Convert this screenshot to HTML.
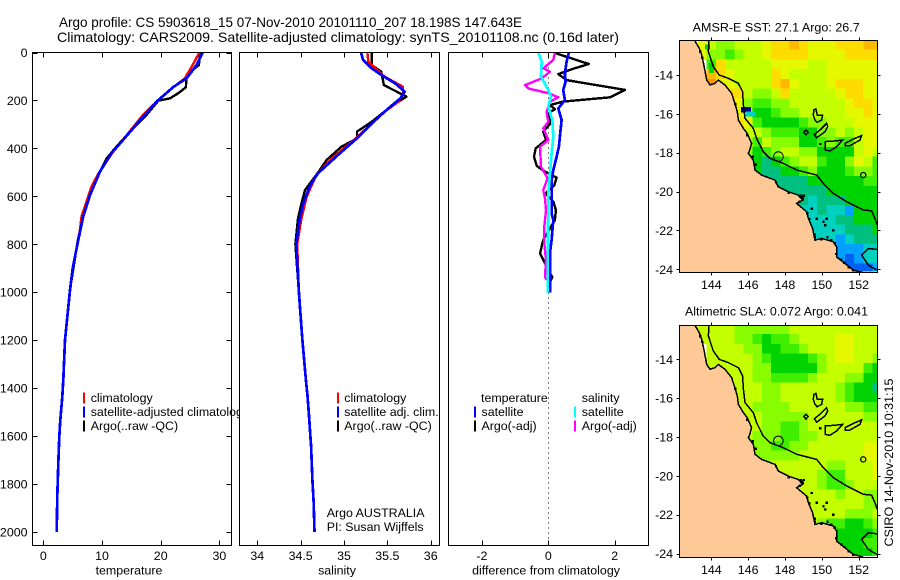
<!DOCTYPE html>
<html lang="en">
<head>
<meta charset="utf-8">
<title>Argo profile CS 5903618_15</title>
<style>
html,body{margin:0;padding:0;background:#fff;}
svg{display:block;}
text{font-family:"Liberation Sans",sans-serif;font-size:12.4px;fill:#000;}
</style>
</head>
<body>
<svg id="chart" width="900" height="580" viewBox="0 0 900 580" xmlns="http://www.w3.org/2000/svg">
<rect x="0" y="0" width="900" height="580" fill="#fff"/>
<text x="59" y="27" style="font-size:14px" textLength="463" lengthAdjust="spacingAndGlyphs">Argo profile: CS 5903618_15 07-Nov-2010 20101110_207 18.198S 147.643E</text>
<text x="57" y="42" style="font-size:14px" textLength="562" lengthAdjust="spacingAndGlyphs">Climatology: CARS2009. Satellite-adjusted climatology: synTS_20101108.nc (0.16d later)</text>
<g id="panels"></g>
<g id="maps"></g>
<text x="692.7" y="31.7" textLength="167" lengthAdjust="spacingAndGlyphs">AMSR-E SST: 27.1 Argo: 26.7</text>
<text x="685" y="315.7" textLength="183" lengthAdjust="spacingAndGlyphs">Altimetric SLA: 0.072 Argo: 0.041</text>
<text transform="translate(893,546.5) rotate(-90)" textLength="168" lengthAdjust="spacingAndGlyphs">CSIRO 14-Nov-2010 10:31:15</text>
</svg>
<script>
const depthTicks = [0,200,400,600,800,1000,1200,1400,1600,1800,2000];
const tempTicks = [0,10,20,30];
const salTicks = [34,34.5,35,35.5,36];
const diffTicks = [-2,0,2];

const tempClimDepth = [0,59,108,149,191,260,344,414,504,560,685,769,900,1000,1200,1366,1436,1533,1603,1714,1853,2000];
const tempClim = [26.6,25.3,24.1,21.9,19.9,17,14.2,11.9,9.4,8.2,6.5,6.1,5,4.55,3.7,3.41,3.24,2.9,2.73,2.56,2.39,2.28];
const tempSatDepth = [0,52,108,143,205,282,365,421,497,595,685,782,900,991,1200,1366,1436,1533,1603,1714,1853,2000];
const tempSat = [27.16,26.1,24.4,22.2,19.3,16.5,13.6,11.6,9.66,7.95,6.8,5.97,5,4.55,3.7,3.41,3.24,2.9,2.73,2.56,2.39,2.28];
const tempArgoDepth = [0,52,94,145,170,191,201,260,302,337,400,442,497,595,685,782,950];
const tempArgo = [26.7,26.5,24.4,24.3,23,21.6,19.6,17.6,15.9,14.5,12.2,10.8,9.66,7.95,6.8,5.9,4.8];

const salClimDepth = [0,38,66,101,143,177,205,247,310,372,441,511,601,692,800,1000,1200,1366,1436,1533,1644,1783,1880,2000];
const salClim = [35.27,35.28,35.36,35.47,35.68,35.68,35.63,35.47,35.28,35.09,34.86,34.68,34.57,34.51,34.46,34.48,34.52,34.56,34.58,34.6,34.62,34.635,34.65,34.66];
const salSatDepth = [0,31,66,94,129,163,191,240,296,358,428,504,553,629,692,800,1000,1200,1366,1436,1533,1644,1783,1880,2000];
const salSat = [35.196,35.22,35.32,35.43,35.59,35.7,35.65,35.49,35.32,35.15,34.93,34.7,34.61,34.53,34.49,34.45,34.48,34.52,34.56,34.58,34.6,34.62,34.635,34.65,34.66];
const salArgoDepth = [0,52,80,136,184,205,240,289,330,358,393,448,511,574,629,692,800,950];
const salArgo = [35.32,35.32,35.43,35.46,35.72,35.63,35.49,35.32,35.15,35.15,34.97,34.8,34.68,34.55,34.51,34.47,34.44,34.47];

const diffTempSatDepth = [0,38,87,122,157,198,233,282,351,393,435,490,532,560,671,699,782,824,1002];
const diffTempSat = [0.62,0.55,0.5,0.52,0.45,0.5,0.3,0.4,0.35,0.32,0.25,0.15,0.1,0.1,0.1,0.15,0.1,0.06,0.05];
const diffTempArgoDepth = [3,48,70,90,115,156,187,205,219,237,251,296,330,365,400,435,473,497,522,553,588,622,657,699,734,782,838,873,907,938,956];
const diffTempArgo = [0.22,1.22,0.7,0.3,0.55,2.31,1.86,0.45,0.05,0.2,0.02,0.06,-0.15,-0.07,-0.38,-0.43,-0.35,-0.1,0.25,0.18,-0.08,0.15,0.23,0.2,0.05,-0.15,-0.25,-0.12,0,0.12,0.05];
const diffSalSatDepth = [0,38,101,157,184,225,282,351,420,504,588,1002];
const diffSalSat = [-0.3,-0.2,-0.22,0,0.08,0,0.12,0.15,0.1,0.05,0,-0.02];
const diffSalArgoDepth = [0,31,66,80,108,136,150,170,187,205,247,289,316,365,393,476,525,574,609,657,727,796,866,935,949];
const diffSalArgo = [0.2,0.15,-0.15,0.05,-0.2,-0.7,-0.6,0,0.3,0.05,-0.05,0,-0.15,0,-0.25,-0.22,-0.02,-0.15,-0.1,-0.07,-0.12,-0.12,-0.07,-0.1,-0.05];

const _ = null;
const sstRows = [
[_,_,9,8,7,7,8,8,8,9,10,10,11,10,9,9,9,10,10,10,11,11],
[_,_,9,7,7,6,7,8,8,9,10,10,10,10,9,9,9,9,10,10,10,10],
[_,_,_,6,10,8,8,8,8,8,9,9,9,9,8,8,9,9,9,9,9,9],
[_,_,_,11,10,9,8,8,8,8,10,9,8,8,8,8,9,9,9,9,9,9],
[_,_,_,12,9,9,8,8,8,8,10,11,9,8,8,8,9,10,10,10,9,9],
[_,_,_,_,10,10,10,8,7,7,8,10,8,8,8,8,8,9,10,10,9,9],
[_,_,_,_,_,10,9,7,6,6,7,7,8,8,8,8,8,8,9,10,10,9],
[_,_,_,_,_,10,9,8,5,5,6,7,7,8,8,8,8,8,9,9,10,9],
[_,_,_,_,_,_,10,9,6,5,5,5,5,6,7,7,8,8,8,9,9,9],
[_,_,_,_,_,_,9,8,8,7,6,6,6,5,5,7,7,8,7,8,9,9],
[_,_,_,_,_,_,_,8,6,8,7,7,7,5,5,6,7,6,6,8,9,9],
[_,_,_,_,_,_,_,7,5,6,7,8,8,7,7,5,5,5,5,8,9,8],
[_,_,_,_,_,_,_,_,5,4,5,6,7,8,8,6,5,5,7,9,8,6],
[_,_,_,_,_,_,_,_,5,4,4,5,5,6,7,5,5,5,6,7,7,6],
[_,_,_,_,_,_,_,_,5,4,4,4,4,4,5,5,5,5,5,5,6,6],
[_,_,_,_,_,_,_,_,_,_,4,4,4,4,4,4,5,5,5,5,5,5],
[_,_,_,_,_,_,_,_,_,_,_,4,4,4,3,4,4,4,5,5,5,5],
[_,_,_,_,_,_,_,_,_,_,_,_,3,3,3,4,3,3,2,5,5,5],
[_,_,_,_,_,_,_,_,_,_,_,_,_,3,3,3,3,4,4,5,5,5],
[_,_,_,_,_,_,_,_,_,_,_,_,_,_,3,3,3,3,4,4,4,5],
[_,_,_,_,_,_,_,_,_,_,_,_,_,_,3,3,3,2,3,4,4,4],
[_,_,_,_,_,_,_,_,_,_,_,_,_,_,_,_,2,2,2,2,3,3],
[_,_,_,_,_,_,_,_,_,_,_,_,_,_,_,_,_,2,1,2,3,3],
[_,_,_,_,_,_,_,_,_,_,_,_,_,_,_,_,_,1,1,1,1,2]
];
const slaRows = [
[_,_,8,8,8,8,7,7,7,7,7,7,8,8,8,8,8,8,8,8,8,8],
[_,_,8,8,8,8,7,7,6,5,6,6,7,8,8,8,8,9,9,8,8,8],
[_,_,_,8,8,8,8,7,7,5,5,6,6,7,8,8,8,9,9,8,8,8],
[_,_,_,8,8,8,8,8,7,6,5,5,5,5,6,7,8,9,9,8,8,7],
[_,_,_,8,8,8,8,8,7,7,5,5,5,5,5,7,8,8,8,8,6,5],
[_,_,_,_,8,8,8,8,7,7,6,6,6,6,7,8,8,8,7,7,5,5],
[_,_,_,_,_,8,8,8,8,7,7,8,8,8,8,8,8,7,6,5,5,4],
[_,_,_,_,_,8,8,8,8,7,7,8,8,8,8,8,8,7,6,5,5,5],
[_,_,_,_,_,_,8,8,7,7,7,7,8,8,8,8,8,8,7,7,6,6],
[_,_,_,_,_,_,8,8,8,7,7,7,7,7,8,8,8,8,8,8,7,7],
[_,_,_,_,_,_,_,8,8,7,7,6,6,7,8,8,8,8,8,8,8,8],
[_,_,_,_,_,_,_,8,7,7,7,6,6,7,7,8,8,8,8,8,8,8],
[_,_,_,_,_,_,_,_,7,7,6,6,7,7,8,8,8,8,8,8,9,9],
[_,_,_,_,_,_,_,_,7,7,7,7,7,8,8,8,8,8,8,8,9,9],
[_,_,_,_,_,_,_,_,7,7,8,8,8,8,8,8,7,7,8,8,8,9],
[_,_,_,_,_,_,_,_,_,_,8,8,8,8,8,7,6,6,8,8,8,9],
[_,_,_,_,_,_,_,_,_,_,_,8,8,8,8,7,6,6,7,8,8,8],
[_,_,_,_,_,_,_,_,_,_,_,_,8,8,8,8,8,7,8,8,7,7],
[_,_,_,_,_,_,_,_,_,_,_,_,_,8,8,8,8,8,8,8,7,7],
[_,_,_,_,_,_,_,_,_,_,_,_,_,_,8,8,8,8,7,7,7,8],
[_,_,_,_,_,_,_,_,_,_,_,_,_,_,8,7,6,6,5,5,6,7],
[_,_,_,_,_,_,_,_,_,_,_,_,_,_,_,_,6,5,5,5,5,6],
[_,_,_,_,_,_,_,_,_,_,_,_,_,_,_,_,_,5,5,5,6,6],
[_,_,_,_,_,_,_,_,_,_,_,_,_,_,_,_,_,5,5,5,5,6]
];
const sstSpotLon = [145.73,146.0,146.0,146.25,143.77,144.0,144.0];
const sstSpotLat = [15.78,15.78,16.0,16.0,12.55,13.5,13.75];
const sstSpotVal = [0,0,3,3,5,5,5];
const slaSpotLon = [];
const slaSpotLat = [];
const slaSpotVal = [];
const levelColors = ["#000090","#0060f0","#00a0ff","#00d0c0","#00c080","#00d400","#40ee00","#88fc00","#c4ff00","#e6f800","#ffdc00","#ffb800","#ff9400"];

const lonTicks = [144,146,148,150,152];
const latTicks = [14,16,18,20,22,24];
const coastLon = [143.08,143.35,143.48,143.6,143.75,143.93,144.2,144.38,144.74,145.1,145.28,145.41,145.47,145.74,145.95,146.19,146.06,146.01,146.28,146.37,146.73,147.46,147.64,148.18,148.72,148.96,148.63,149.18,149.27,149.5,149.63,149.99,150.62,150.8,150.8,151.26,151.71,152.25];
const coastLat = [12.2,12.63,12.97,13.49,14.26,14.51,14.43,14.26,14.51,14.94,15.46,15.89,16.32,16.75,17,17.52,17.95,18.03,18.38,18.89,19.15,19.41,19.75,20.01,20.18,20.44,20.61,21.04,21.38,21.9,22.5,22.41,22.58,22.84,23.36,23.7,24.04,24.18];
const shelfLon = [143.87,143.84,144.11,144.43,144.92,145.47,145.7,145.74,145.83,146.28,146.46,146.82,147.18,147.91,148.63,149.72,150.08,150.62,151.35,152.25,152.7,152.88,153.01];
const shelfLat = [12.2,12.8,13.57,14,14.17,14.43,14.86,15.54,16.23,16.75,17.26,17.95,18.29,18.55,18.89,19.15,19.58,20.09,20.52,20.95,20.99,21.38,21.72];
const shelf2Lon = [153.01,152.52,152.16,152.52,152.98];
const shelf2Lat = [22.98,22.93,23.27,23.78,24.04];
const reefALon = [149.57,149.68,149.75,150.04,149.99,149.75,149.63,149.54];
const reefALat = [15.8,15.75,16.06,16.06,16.32,16.44,16.32,16.06];
const reefBLon = [150.26,150.32,150.17,149.72,149.59,149.9];
const reefBLat = [16.49,16.66,16.92,17.23,17.06,16.83];
const reefCLon = [149.14,149.26,149.14,149.02];
const reefCLat = [16.83,16.95,17.07,16.95];
const reefDLon = [150.17,150.62,151.13,150.8,150.44,150.17];
const reefDLat = [17.43,17.4,17.35,17.69,17.91,17.86];
const reefELon = [151.26,151.71,152.16,152.07,151.53,151.26];
const reefELat = [17.52,17.3,17.12,17.35,17.64,17.64];
const rockLon = [143.4,143.5,145.3,145.95,146.25,146.4,147.5,148.2,148.85,148.95,148.8,149.2,149.3,149.45,149.72,150.08,150.26,150.17,150.62,149.6,149.95,150.5,150.78,151.2,151.7,149.9,148.9,149.0,149.62,150.3,150.7,151.05,151.45];
const rockLat = [12.8,13.1,15.5,17.1,18.2,18.6,19.5,20.05,20.2,20.35,20.5,21.1,21.4,20.87,21.38,21.55,21.38,21.72,21.98,22.2,22.45,22.5,23.2,23.65,24.05,17.54,20.28,20.2,22.35,22.35,22.65,23.5,23.88];
const profileLon = [147.643];
const profileLat = [18.198];
const seamountLon = [152.25];
const seamountLat = [19.15];

const NS = 'http://www.w3.org/2000/svg';
const panels = document.getElementById('panels');
const maps = document.getElementById('maps');
function mk(parent, tag, attrs, txt) {
  const e = document.createElementNS(NS, tag);
  for (const k in attrs) e.setAttribute(k, attrs[k]);
  if (txt !== undefined) e.textContent = txt;
  parent.appendChild(e);
  return e;
}
const yDepth = d => 52.5 + d * 0.2397;
const xTemp = v => 43.3 + v * 5.87;
const xSal = v => 257.3 + (v - 34) * 86.7;
const xDiff = v => 548.3 + v * 33.2;
const frames = {temp:[32.5,231.5], sal:[239.5,439.5], diff:[448.5,648.5]};
const TOP = 52.5, BOT = 545.5;

function drawFrame(key, xf, ticks, fmt, label, labelX) {
  const f = frames[key];
  const bg = mk(panels,'rect',{x:f[0],y:TOP,width:f[1]-f[0],height:BOT-TOP,fill:'#fff'});
  
  
  ticks.forEach(t => {
    const x = Math.round(xf(t)) + 0.5;
    const a = mk(panels,'line',{x1:x,x2:x,y1:TOP,y2:TOP+5,stroke:'#000','shape-rendering':'crispEdges'});
    
    
    const b = mk(panels,'line',{x1:x,x2:x,y1:BOT,y2:BOT-5,stroke:'#000','shape-rendering':'crispEdges'});
    
    
    const l = mk(panels,'text',{x:xf(t),y:560,'text-anchor':'middle'},fmt(t));
    
    
  });
  const tl = mk(panels,'text',{x:labelX,y:574.5,'text-anchor':'middle'},label);
  
  
}
function drawBox(key) {
  const f = frames[key];
  const r = mk(panels,'rect',{x:f[0],y:TOP,width:f[1]-f[0],height:BOT-TOP,fill:'none',stroke:'#000','shape-rendering':'crispEdges'});
  
  
}
function drawLine(xf, depth, vals, color, name, width) {
  const pts = depth.map((d,i) => xf(vals[i]).toFixed(1) + ',' + yDepth(d).toFixed(1)).join(' ');
  const p = mk(panels,'polyline',{points:pts,fill:'none',stroke:color,'stroke-width':width,'shape-rendering':'crispEdges','stroke-linejoin':'round'});
  
  
}
function legendRow(barX, textX, yBase, color, txt, name) {
  const b = mk(panels,'rect',{x:barX,y:yBase-9.5,width:2,height:11,fill:color,'shape-rendering':'crispEdges'});
  
  
  const t = mk(panels,'text',{x:textX,y:yBase},txt);
  
  
}

// temperature panel
drawFrame('temp', xTemp, tempTicks, String, 'temperature', 129);
depthTicks.forEach(d => {
  const y = Math.round(yDepth(d)) + 0.5;
  const a = mk(panels,'line',{x1:32.5,x2:37.5,y1:y,y2:y,stroke:'#000','shape-rendering':'crispEdges'});
  
  
  const b = mk(panels,'line',{x1:231.5,x2:226.5,y1:y,y2:y,stroke:'#000','shape-rendering':'crispEdges'});
  
  
  const l = mk(panels,'text',{x:27.5,y:yDepth(d)+4.5,'text-anchor':'end'},String(d));
  
  
});
drawLine(xTemp, tempArgoDepth, tempArgo, '#000', 'temperature-argo-line', 2.4);
drawLine(xTemp, tempClimDepth, tempClim, '#f00', 'temperature-climatology-line', 2.4);
drawLine(xTemp, tempSatDepth, tempSat, '#00f', 'temperature-satellite-line', 2.7);
legendRow(83, 90.7, 402, '#f00', 'climatology', 'temperature-climatology');
legendRow(83, 90.7, 416, '#00f', 'satellite-adjusted climatology', 'temperature-satellite');
legendRow(83, 90.7, 430, '#000', 'Argo(..raw -QC)', 'temperature-argo');
drawBox('temp');

// salinity panel
drawFrame('sal', xSal, salTicks, String, 'salinity', 337);
drawLine(xSal, salArgoDepth, salArgo, '#000', 'salinity-argo-line', 2.4);
drawLine(xSal, salClimDepth, salClim, '#f00', 'salinity-climatology-line', 2.4);
drawLine(xSal, salSatDepth, salSat, '#00f', 'salinity-satellite-line', 2.7);
legendRow(337, 344.3, 402, '#f00', 'climatology', 'salinity-climatology');
legendRow(337, 344.3, 416, '#00f', 'satellite adj. clim.', 'salinity-satellite');
legendRow(337, 344.3, 430, '#000', 'Argo(..raw -QC)', 'salinity-argo');
const note1 = mk(panels,'text',{x:326.7,y:517},'Argo AUSTRALIA');


const note2 = mk(panels,'text',{x:326.7,y:531},'PI: Susan Wijffels');


drawBox('sal');

// difference panel
drawFrame('diff', xDiff, diffTicks, String, 'difference from climatology', 546);
const zeroLine = mk(panels,'line',{x1:548.5,x2:548.5,y1:TOP,y2:BOT,stroke:'#000','stroke-dasharray':'1 4','shape-rendering':'crispEdges'});


drawLine(xDiff, diffTempArgoDepth, diffTempArgo, '#000', 'diff-temperature-argo-line', 2.4);
drawLine(xDiff, diffTempSatDepth, diffTempSat, '#00f', 'diff-temperature-satellite-line', 2.7);
drawLine(xDiff, diffSalArgoDepth, diffSalArgo, '#f0f', 'diff-salinity-argo-line', 2.4);
drawLine(xDiff, diffSalSatDepth, diffSalSat, '#0ff', 'diff-salinity-satellite-line', 2.7);
const h1 = mk(panels,'text',{x:481,y:402},'temperature');


const h2 = mk(panels,'text',{x:581.7,y:402},'salinity');


legendRow(474, 481.5, 416, '#00f', 'satellite', 'diff-temperature-satellite');
legendRow(474, 481.5, 430, '#000', 'Argo(-adj)', 'diff-temperature-argo');
legendRow(574, 581.7, 416, '#0ff', 'satellite', 'diff-salinity-satellite');
legendRow(574, 581.7, 430, '#f0f', 'Argo(-adj)', 'diff-salinity-argo');
drawBox('diff');

// maps
const clipDefs = mk(maps,'defs',{});
function drawMap(key, rows, spotLon, spotLat, spotVal, y14, top, bottom) {
  const L = 679.5, R = 877.5;
  const xLon = lon => 711.3 + (lon - 144) * 18.42;
  const yLat = lat => y14 + (lat - 14) * 19.43;
  const cp = mk(clipDefs,'clipPath',{id:key+'-clip'});
  mk(cp,'rect',{x:L,y:top,width:R-L,height:bottom-top});
  const g = mk(maps,'g',{'clip-path':'url(#'+key+'-clip)'});
  
  
  rows.forEach((row, r) => row.forEach((v, c) => {
    if (v === null) return;
    const lon0 = 142.25 + c * 0.5, lat0 = 12.2 + r * 0.5;
    const lat1 = Math.min(lat0 + 0.5, 24.1);
    const cell = mk(g,'rect',{x:xLon(lon0),y:yLat(lat0),width:xLon(lon0+0.5)-xLon(lon0)+0.4,height:yLat(lat1)-yLat(lat0)+0.4,fill:levelColors[v],'shape-rendering':'crispEdges'});
    
    
  }));
  spotVal.forEach((v, i) => {
    const cell = mk(g,'rect',{x:xLon(spotLon[i]-0.125),y:yLat(spotLat[i]-0.125),width:xLon(0.25+144)-xLon(144)+0.4,height:yLat(14.25)-yLat(14)+0.4,fill:levelColors[v],'shape-rendering':'crispEdges'});
    
    
  });
  const pts = (lons, lats) => lons.map((v,i) => xLon(v).toFixed(1)+','+yLat(lats[i]).toFixed(1)).join(' ');
  const land = mk(g,'polygon',{points:pts(coastLon,coastLat)+' '+xLon(152.25)+','+(bottom+2)+' '+(L-2)+','+(bottom+2)+' '+(L-2)+','+(top-2)+' '+xLon(coastLon[0])+','+(top-2),fill:'#ffc997',stroke:'none'});
  
  
  const lineStyle = {fill:'none',stroke:'#000','stroke-width':1.5,'shape-rendering':'crispEdges'};
  [[coastLon,coastLat,'coastline'],[shelfLon,shelfLat,'shelf-isobath'],[shelf2Lon,shelf2Lat,'southern-isobath']].forEach(s => {
    const p = mk(g,'polyline',Object.assign({points:pts(s[0],s[1])},lineStyle));
    
    
  });
  [[reefALon,reefALat],[reefBLon,reefBLat],[reefCLon,reefCLat],[reefDLon,reefDLat],[reefELon,reefELat]].forEach(s => {
    const p = mk(g,'polygon',Object.assign({points:pts(s[0],s[1])},lineStyle));
    
    
  });
  rockLon.forEach((lon,i) => {
    const rk = mk(g,'rect',{x:xLon(lon)-1,y:yLat(rockLat[i])-1,width:2.4,height:2.4,fill:'#000','shape-rendering':'crispEdges'});
    
    
  });
  const sm = mk(g,'circle',{cx:xLon(seamountLon[0]),cy:yLat(seamountLat[0]),r:2.6,fill:'none',stroke:'#000','stroke-width':1.3});
  
  
  const pc = mk(g,'circle',{cx:xLon(profileLon[0]),cy:yLat(profileLat[0]),r:4.8,fill:'none',stroke:'#000','stroke-width':1});
  
  
  const fr = mk(maps,'rect',{x:L,y:top,width:R-L,height:bottom-top,fill:'none',stroke:'#000','shape-rendering':'crispEdges'});
  
  
  lonTicks.forEach(t => {
    const x = Math.round(xLon(t)) + 0.5;
    const a = mk(maps,'line',{x1:x,x2:x,y1:top,y2:top-3,stroke:'#000','shape-rendering':'crispEdges'});
    
    
    const b = mk(maps,'line',{x1:x,x2:x,y1:bottom,y2:bottom+3,stroke:'#000','shape-rendering':'crispEdges'});
    
    
    const l = mk(maps,'text',{x:xLon(t),y:bottom+16.5,'text-anchor':'middle'},String(t));
    
    
  });
  latTicks.forEach(t => {
    const y = Math.round(yLat(t)) + 0.5;
    const a = mk(maps,'line',{x1:L,x2:L-3,y1:y,y2:y,stroke:'#000','shape-rendering':'crispEdges'});
    
    
    const b = mk(maps,'line',{x1:R,x2:R+3,y1:y,y2:y,stroke:'#000','shape-rendering':'crispEdges'});
    
    
    const l = mk(maps,'text',{x:673,y:yLat(t)+4.5,'text-anchor':'end'},'-' + t);
    
    
  });
}
drawMap('sst', sstRows, sstSpotLon, sstSpotLat, sstSpotVal, 75, 40.5, 272.5);
drawMap('sla', slaRows, slaSpotLon, slaSpotLat, slaSpotVal, 359.3, 325.5, 557.5);
</script>
</body>
</html>
